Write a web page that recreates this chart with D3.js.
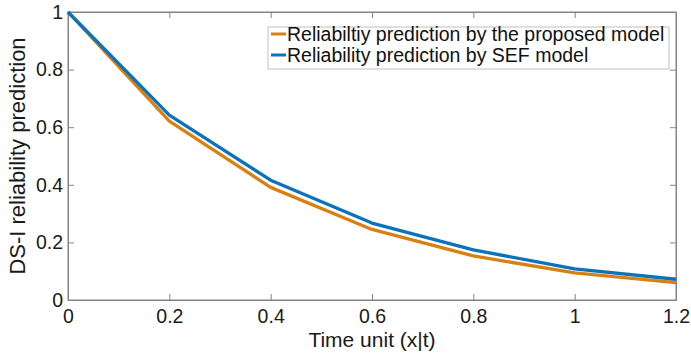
<!DOCTYPE html>
<html><head><meta charset="utf-8">
<script src="https://cdn.jsdelivr.net/npm/d3@7"></script>
<style>body{margin:0;background:#fff;} text{font-family:"Liberation Sans",Arial,sans-serif;}</style>
</head><body>
<svg id="c" width="691" height="361"></svg>
<script>
const xValues = [0, 0.2, 0.4, 0.6, 0.8, 1.0, 1.2];
const proposed = [1, 0.621, 0.391, 0.245, 0.153, 0.094, 0.060];
const sef = [1, 0.642, 0.416, 0.267, 0.174, 0.108, 0.072];
const seriesNames = ["Reliabiltiy prediction by the proposed model", "Reliability prediction by SEF model"];
const xTicks = [0, 0.2, 0.4, 0.6, 0.8, 1, 1.2];
const yTicks = [0, 0.2, 0.4, 0.6, 0.8, 1];
const xLabel = "Time unit (x|t)";
const yLabel = "DS-I reliability prediction";

const svg = d3.select("#c");
const m = {l:68, r:676, t:12, b:300};
const x = d3.scaleLinear().domain([0,1.2]).range([m.l, m.r]);
const y = d3.scaleLinear().domain([0,1]).range([m.b, m.t]);
const axisColor = "#858585";
const tl = 6;
const FONT = '"Liberation Sans",Arial,sans-serif';

svg.append("rect").attr("x", m.l).attr("y", m.t).attr("width", m.r-m.l).attr("height", m.b-m.t)
  .attr("fill","none").attr("stroke",axisColor).attr("stroke-width",1);

const xa = svg.append("g").attr("transform",`translate(0,${m.b})`)
  .call(d3.axisBottom(x).tickValues(xTicks).tickSize(-tl).tickPadding(9).tickFormat(d3.format("~g")));
const ya = svg.append("g").attr("transform",`translate(${m.l},0)`)
  .call(d3.axisLeft(y).tickValues(yTicks).tickSize(-tl).tickPadding(5).tickFormat(d3.format("~g")));
const xt = svg.append("g").attr("transform",`translate(0,${m.t})`)
  .call(d3.axisTop(x).tickValues(xTicks).tickSize(-tl).tickFormat(""));
const yr = svg.append("g").attr("transform",`translate(${m.r},0)`)
  .call(d3.axisRight(y).tickValues(yTicks).tickSize(-tl).tickFormat(""));
[xa,ya,xt,yr].forEach(a=>{
  a.select(".domain").attr("stroke",axisColor);
  a.selectAll(".tick line").attr("stroke",axisColor);
  a.selectAll(".tick text").attr("fill","#1a1a1a").style("font-size","19.5px").style("font-family",FONT);
});

const line = d3.line().x((d,i)=>x(xValues[i])).y(d=>y(d));
const colors = ["#d98012", "#0b72bb"];
[proposed, sef].forEach((s,i)=>{
  svg.append("path").datum(s).attr("d", line).attr("fill","none")
    .attr("stroke", colors[i]).attr("stroke-width", 3.3).attr("stroke-linejoin","round");
});

const lg = svg.append("g");
lg.append("rect").attr("x",268).attr("y",27).attr("width",401).attr("height",42)
  .attr("fill","#fff").attr("stroke","#b0b0b0").attr("stroke-width",0.8);
seriesNames.forEach((n,i)=>{
  const yy = 34 + i*21;
  lg.append("line").attr("x1",271).attr("x2",286).attr("y1",yy).attr("y2",yy)
    .attr("stroke",colors[i]).attr("stroke-width",3);
  lg.append("text").attr("x",287).attr("y",yy).attr("dy","0.35em")
    .style("font-size","19.5px").attr("fill","#111").text(n);
});

svg.append("text").attr("x", (m.l+m.r)/2).attr("y", 347).attr("text-anchor","middle")
  .style("font-size","21px").attr("fill","#1a1a1a").text(xLabel);
svg.append("text").attr("transform",`translate(25,${(m.t+m.b)/2}) rotate(-90)`).attr("text-anchor","middle")
  .style("font-size","22px").attr("fill","#1a1a1a").text(yLabel);
</script>
</body></html>
